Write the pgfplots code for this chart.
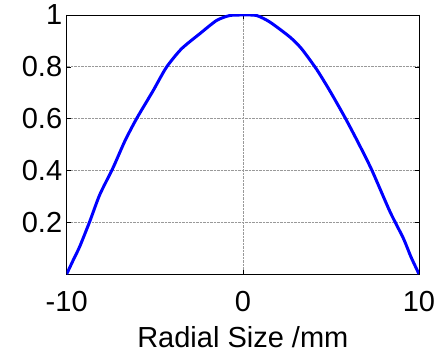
\documentclass[border=0pt]{standalone}
\usepackage{pgfplots}
\pgfplotsset{compat=1.18}
\usepackage{fontspec}
\setmainfont{Liberation Sans}
\begin{document}
\begin{tikzpicture}
\path[use as bounding box] (-66.7pt,-82pt) rectangle (377.3pt,274pt);
\begin{axis}[
  at={(0,0)}, anchor=south west,
  scale only axis,
  width=352.3pt, height=259pt,
  xmin=-10, xmax=10, ymin=0, ymax=1,
  xtick={-10,0,10},
  ytick={0.2,0.4,0.6,0.8,1},
  yticklabels={0.2,0.4,0.6,0.8,1},
  xticklabels={-10,0,10},
  grid=major,
  major grid style={densely dotted, gray!80, line width=0.6pt},
  tick align=inside,
  major tick length=4pt,
  tick style={black, line width=0.5pt},
  axis line style={black, line width=0.9pt},
  ticklabel style={font=\fontsize{29}{32}\selectfont},
  xticklabel style={yshift=-14pt},
  yticklabel style={xshift=-1pt},
  xlabel={Radial Size /mm},
  xlabel style={font=\fontsize{29}{32}\selectfont, yshift=-8pt},
  /pgf/number format/assume math mode=true,
]
\addplot[color={rgb,255:red,0;green,0;blue,255}, line width=3pt, line join=round, smooth, tension=0.4] coordinates {
(-10,0) (-9.62,0.055) (-9.26,0.106) (-8.69,0.203) (-8.125,0.306) (-7.37,0.41) (-6.70,0.513) (-6.04,0.599) (-5.10,0.707) (-4.34,0.798) (-3.49,0.869) (-2.44,0.928) (-1.49,0.979) (-0.74,0.998) (0,1.0)
(0.78,0.998) (1.53,0.973) (2.67,0.915) (3.33,0.87) (4.19,0.79) (4.94,0.707) (5.80,0.604) (6.55,0.507) (7.31,0.403) (8.35,0.241) (9.11,0.138) (9.55,0.065) (10,0)
};
\end{axis}
\end{tikzpicture}
\end{document}
